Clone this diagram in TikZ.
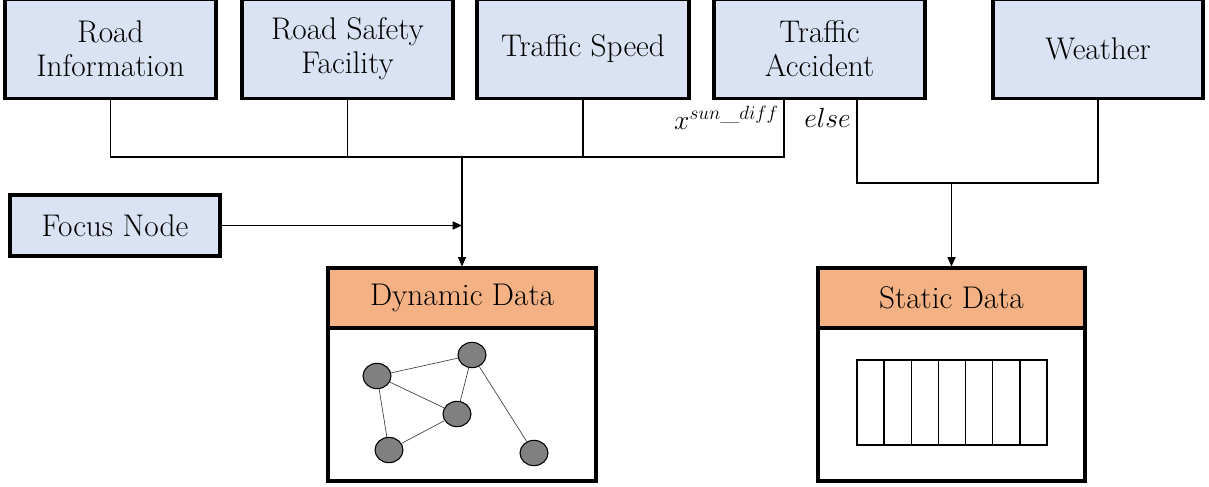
\documentclass[tikz,border=0pt]{standalone}
\usetikzlibrary{arrows.meta,shapes.geometric}
\definecolor{boxblue}{HTML}{DAE3F3}
\definecolor{hdrorange}{HTML}{F4B183}
\definecolor{nodegray}{HTML}{808080}
\tikzset{
  srcbox/.style={draw=black, line width=2.3pt, fill=boxblue, align=center, inner sep=0pt,
    font=\fontsize{23.5}{25}\selectfont},
  hdrbox/.style={draw=black, line width=2.3pt, fill=hdrorange, inner sep=0pt,
    minimum height=45pt, font=\fontsize{23.5}{25}\selectfont},
  bodybox/.style={draw=black, line width=2.3pt, fill=white, inner sep=0pt},
  conn/.style={line width=1.1pt},
  arr/.style={conn, -{Triangle[length=7pt,width=6pt]}},
  gnode/.style={ellipse, draw=black, line width=0.8pt, fill=nodegray, inner sep=0pt,
    minimum width=21pt, minimum height=19pt},
  gedge/.style={line width=0.5pt, draw=black!75},
  lbl/.style={inner sep=0pt, font=\fontsize{20.5}{22}\selectfont}
}
\begin{document}
\begin{tikzpicture}[x=0.75pt, y=-0.75pt]
\useasboundingbox (0,0) rectangle (1209,486);
% source boxes
\node[srcbox, minimum width=158.25pt, minimum height=74.6pt] (ri) at (110.5,48.75) {Road\\Information};
\node[srcbox, minimum width=158.25pt, minimum height=74.6pt] (rsf) at (347.5,48.75) {Road Safety\\Facility};
\node[srcbox, minimum width=159pt, minimum height=74.6pt] (ts) at (583,48.75) {Traffic Speed};
\node[srcbox, minimum width=158.25pt, minimum height=74.6pt] (ta) at (819.5,48.75) {Traffic\\Accident};
\node[srcbox, minimum width=157.5pt, minimum height=74.6pt] (w) at (1098,48.75) {Weather};
\node[srcbox, minimum width=157.5pt, minimum height=45.75pt] (fn) at (115,225.5) {Focus Node};
% target boxes
\node[bodybox, minimum width=201pt, minimum height=159.75pt] (dynb) at (462,374.5) {};
\node[hdrbox, minimum width=201pt] (dyn) at (462,298) {Dynamic Data};
\node[bodybox, minimum width=200.25pt, minimum height=159.75pt] (stb) at (951.5,374.5) {};
\node[hdrbox, minimum width=200.25pt] (st) at (951.5,298) {Static Data};
% junctions
\coordinate (j1) at (462,157);
\coordinate (taL) at (784,157);
\coordinate (taR) at (857,183);
\coordinate (j2) at (951.5,183);
% left connectors
\draw[conn] (ri.south) |- (j1);
\draw[conn] (rsf.south) |- (j1);
\draw[conn] (ts.south) |- (j1);
\draw[conn] (ta.south -| taL) -- (taL) -- (j1);
\draw[arr] (j1) -- (dyn.north);
\draw[arr] (fn.east) -- (fn.east -| j1);
% right connectors
\draw[conn] (ta.south -| taR) -- (taR) -- (taR -| w.south) -- (w.south);
\draw[arr] (j2) -- (st.north);
% labels
\node[lbl, anchor=east] (lx) at (779,118) {$x^{sun\_diff}$};
\node[lbl, anchor=west] (le) at (804,118) {$else$};
% graph
\node[gnode] (ga) at (377,376) {};
\node[gnode] (gb) at (472,355) {};
\node[gnode] (gc) at (457,414) {};
\node[gnode] (gd) at (389,450) {};
\node[gnode] (ge) at (534,453) {};
\draw[gedge] (ga) -- (gb);
\draw[gedge] (ga) -- (gc);
\draw[gedge] (ga) -- (gd);
\draw[gedge] (gb) -- (gc);
\draw[gedge] (gb) -- (ge);
\draw[gedge] (gc) -- (gd);
% table
\draw[line width=1.1pt] (857,360) rectangle (1047,445);
\foreach \i in {1,...,6} {
  \draw[line width=1.1pt] ({857+\i*190/7},360) -- ({857+\i*190/7},445);
}
\end{tikzpicture}
\end{document}
